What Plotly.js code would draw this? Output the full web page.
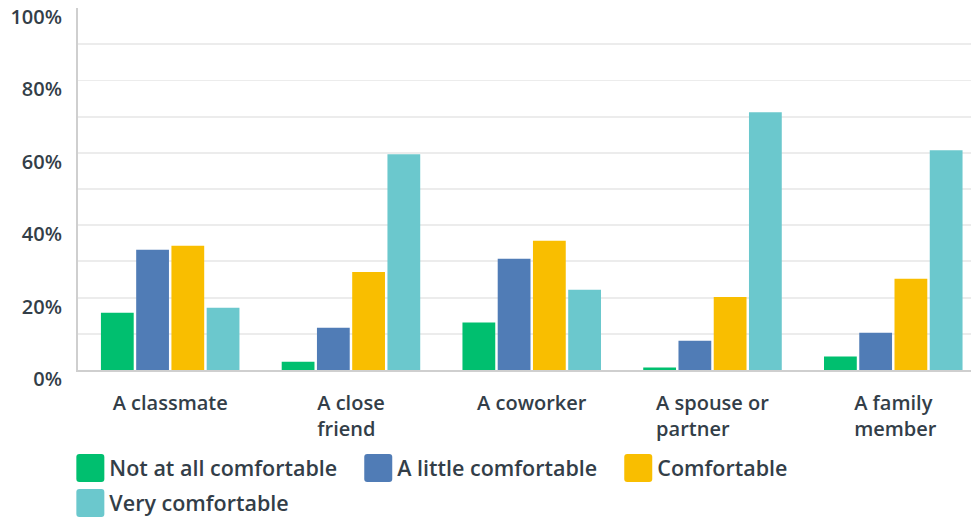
<!DOCTYPE html>
<html>
<head>
<meta charset="utf-8">
<script src="https://cdn.plot.ly/plotly-3.0.1.min.js"></script>
<style>html,body{margin:0;padding:0;background:#fff;}#chart{width:971px;height:521px;}</style>
</head>
<body>
<div id="chart"></div>
<script>
const categories = ["A classmate", "A close<br>friend", "A coworker", "A spouse or<br>partner", "A family<br>member"];
const seriesNames = ["Not at all comfortable", "A little comfortable", "Comfortable", "Very comfortable"];
const notAtAll = [15.8, 2.3, 13.1, 0.7, 3.7];
const aLittle = [33.2, 11.7, 30.7, 8.1, 10.3];
const comfortable = [34.3, 27.1, 35.7, 20.2, 25.2];
const veryComfortable = [17.2, 59.6, 22.2, 71.2, 60.7];
const colors = ["#00bf6f", "#507cb6", "#f9be00", "#6bc8cd"];
const yTicks = [0, 20, 40, 60, 80, 100];
const yTickLabels = ["0%", "20%", "40%", "60%", "80%", "100%"];

const allValues = [notAtAll, aLittle, comfortable, veryComfortable];
const traces = allValues.map((vals, i) => ({
  type: "bar",
  name: seriesNames[i],
  x: categories,
  y: vals,
  marker: {color: colors[i], line: {width: 0}},
  hoverinfo: "none"
}));

const textColor = "#333e48";
const fam = "Open Sans, sans-serif";
const tickFont = {family: fam, size: 20, color: textColor, weight: 600};

const layout = {
  width: 971, height: 521,
  margin: {l: 78, r: 0, t: 7.5, b: 150.5},
  paper_bgcolor: "#fff", plot_bgcolor: "#fff",
  barmode: "group",
  bargap: 0.22,
  bargroupgap: 0.07,
  font: tickFont,
  showlegend: true,
  xaxis: {
    type: "category",
    range: [-0.51, 4.43],
    showgrid: false,
    showline: true, linecolor: "#cfcfcf", linewidth: 2,
    ticks: "", tickfont: tickFont,
    ticklabelstandoff: 14,
    zeroline: false
  },
  yaxis: {
    range: [0, 100],
    tickvals: yTicks, ticktext: yTickLabels,
    showgrid: true, gridcolor: "#ececec", gridwidth: 1.8,
    minor: {dtick: 10, showgrid: true, gridcolor: "#ececec", gridwidth: 1.8},
    showline: true, linecolor: "#cfcfcf", linewidth: 2,
    zeroline: false,
    ticks: "", tickfont: tickFont,
    ticklabelstandoff: 10,
    ticklabelshift: 9
  },
  legend: {
    orientation: "h",
    xref: "container", yref: "container",
    x: 0.057, y: 0.141, xanchor: "left", yanchor: "top",
    font: {family: fam, size: 21.5, color: textColor, weight: 600},
    traceorder: "normal",
    itemclick: false,
    itemwidth: 44,
    tracegroupgap: 0
  }
};

Plotly.newPlot("chart", traces, layout, {staticPlot: true, displayModeBar: false}).then(function(gd){
  // larger rounded legend swatches
  gd.querySelectorAll(".legendpoints path").forEach(function(p){
    p.setAttribute("d", "M19,-14H-3A3,3 0 0 0 -6,-11V11A3,3 0 0 0 -3,14H19A3,3 0 0 0 22,11V-11A3,3 0 0 0 19,-14Z");
  });
  // pack legend entries by their own text width within each row
  const sb = gd.querySelector(".legend .scrollbox");
  if (sb) sb.removeAttribute("clip-path");
  const items = Array.from(gd.querySelectorAll(".legend .traces"));
  const rowYs = [];
  let prev = null;
  items.forEach(function(it){
    const m = /translate\(\s*([-\d.e]+)[ ,]+([-\d.e]+)\s*\)/.exec(it.getAttribute("transform") || "");
    if (!m) return;
    let x = +m[1], y = +m[2];
    let row = rowYs.findIndex(function(v){ return Math.abs(v - y) < 1; });
    if (row < 0) { rowYs.push(y); row = rowYs.length - 1; }
    const w = it.querySelector(".legendtext").getComputedTextLength();
    if (prev && prev.row === row) x = prev.x + prev.w + 60;
    it.setAttribute("transform", "translate(" + x + "," + (y + row * 4) + ")");
    prev = {x: x, w: w, row: row};
  });
  // left-align multi-line category labels, keeping the first line centred
  gd.querySelectorAll(".xtick text").forEach(function(t){
    const lines = t.querySelectorAll("tspan.line");
    if (lines.length > 1) {
      const left = lines[0].getBBox().x;
      t.setAttribute("text-anchor", "start");
      t.style.textAnchor = "start";
      lines.forEach(function(l){ l.setAttribute("x", left); });
    }
  });
});
</script>
</body>
</html>
